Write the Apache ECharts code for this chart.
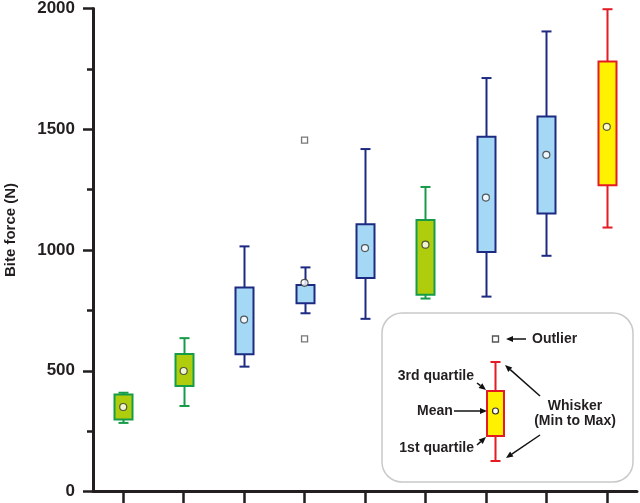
<!DOCTYPE html>
<html><head><meta charset="utf-8">
<script src="https://cdn.jsdelivr.net/npm/echarts@6/dist/echarts.min.js"></script>
<style>html,body{margin:0;padding:0;background:#fff}#c{width:640px;height:503px}</style>
</head><body><div id="c"></div>
<script>
// ---- data ----
const categories = ['1','2','3','4','5','6','7','8','9'];
const groups   = ['green','green','blue','blue','blue','green','blue','blue','red'];
const mins     = [284, 354, 517, 738, 715, 799, 807, 976, 1093];
const q1s      = [298, 437, 568, 779, 884, 815, 992, 1151, 1268];
const q3s      = [402, 569, 845, 855, 1107, 1124, 1469, 1553, 1781];
const maxs     = [409, 635, 1015, 928, 1418, 1261, 1712, 1905, 1997];
const means    = [350, 499, 712, 864, 1008, 1022, 1217, 1394, 1510];
const outlierCats   = [3, 3];
const outlierValues = [1455, 632];
const yTicks = [0, 500, 1000, 1500, 2000];

// ---- styles ----
const STYLES = {
  green: {fill:'#afcd0c', line:'#169b49'},
  blue:  {fill:'#a5d8f5', line:'#1d2a82'},
  red:   {fill:'#fff200', line:'#e31b23'}
};
const BOX_W = 18, CAP_W = 10, INK = '#231f20';
const FONT = '"Liberation Sans", Arial, sans-serif';

function makeBoxSeries(g){
  const st = STYLES[g];
  const data = [];
  categories.forEach((c,i)=>{ if(groups[i]===g) data.push([i, mins[i], q1s[i], q3s[i], maxs[i]]); });
  return {
    type:'custom', name:g, data, z:3,
    encode:{x:0, y:[1,2,3,4]},
    renderItem(params, api){
      const i = api.value(0);
      const pMin = api.coord([i, api.value(1)]);
      const pQ1 = api.coord([i, api.value(2)]);
      const pQ3 = api.coord([i, api.value(3)]);
      const pMax = api.coord([i, api.value(4)]);
      const x = Math.round(pQ1[0]) + 0.5;
      const ls = {stroke:st.line, lineWidth:2};
      return {type:'group', children:[
        {type:'line', shape:{x1:x,y1:pQ3[1],x2:x,y2:pMax[1]}, style:ls},
        {type:'line', shape:{x1:x-CAP_W/2,y1:pMax[1],x2:x+CAP_W/2,y2:pMax[1]}, style:ls},
        {type:'line', shape:{x1:x,y1:pQ1[1],x2:x,y2:pMin[1]}, style:ls},
        {type:'line', shape:{x1:x-CAP_W/2,y1:pMin[1],x2:x+CAP_W/2,y2:pMin[1]}, style:ls},
        {type:'rect', shape:{x:x-BOX_W/2,y:pQ3[1],width:BOX_W,height:pQ1[1]-pQ3[1]},
         style:{fill:st.fill, stroke:st.line, lineWidth:2}}
      ]};
    }
  };
}

function arrow(x1,y1,x2,y2){
  const a = Math.atan2(y2-y1,x2-x1), L=7, W=3;
  const bx = x2 - L*Math.cos(a), by = y2 - L*Math.sin(a);
  const px = -Math.sin(a)*W, py = Math.cos(a)*W;
  return [
    {type:'line', shape:{x1:x1,y1:y1,x2:bx,y2:by}, style:{stroke:'#111', lineWidth:1.5}},
    {type:'polygon', shape:{points:[[x2,y2],[bx+px,by+py],[bx-px,by-py]]}, style:{fill:'#111'}}
  ];
}
function txt(x,y,t,align){
  return {type:'text', x:x, y:y, style:{text:t, font:'bold 14px '+FONT, fill:INK, align:align||'left', verticalAlign:'middle'}};
}

// legend key (illustration)
const LX = 495.5;
const legendEls = [
  {type:'rect', shape:{x:382,y:313,width:251,height:169,r:20}, style:{fill:'#fff', stroke:'#c9c9c9', lineWidth:1.5}},
  {type:'rect', shape:{x:LX-3,y:336,width:6,height:6}, style:{fill:'#fff', stroke:'#555', lineWidth:1.3}},
  ...arrow(526,339,506,339),
  txt(532,339,'Outlier'),
  {type:'line', shape:{x1:LX,y1:362,x2:LX,y2:461}, style:{stroke:STYLES.red.line, lineWidth:2}},
  {type:'line', shape:{x1:LX-5,y1:362,x2:LX+5,y2:362}, style:{stroke:STYLES.red.line, lineWidth:2}},
  {type:'line', shape:{x1:LX-5,y1:461,x2:LX+5,y2:461}, style:{stroke:STYLES.red.line, lineWidth:2}},
  {type:'rect', shape:{x:LX-8.5,y:391,width:17,height:45}, style:{fill:STYLES.red.fill, stroke:STYLES.red.line, lineWidth:2}},
  {type:'circle', shape:{cx:LX,cy:411,r:3}, style:{fill:'#fff', stroke:'#333', lineWidth:1.2}},
  txt(474,376,'3rd quartile','right'),
  ...arrow(477,383,486,390),
  txt(417,411,'Mean'),
  ...arrow(454,411,487,411),
  txt(474,448,'1st quartile','right'),
  ...arrow(477,445,486,437),
  txt(575,406,'Whisker','center'),
  txt(575,421,'(Min to Max)','center'),
  ...arrow(540,396,505,365),
  ...arrow(540,435,506,458),
  {type:'text', x:11, y:230, rotation:Math.PI/2,
   style:{text:'Bite force (N)', font:'bold 15px '+FONT, fill:INK, align:'center', verticalAlign:'middle'}}
];

const chart = echarts.init(document.getElementById('c'), null, {renderer:'canvas'});
chart.setOption({
  animation:false,
  backgroundColor:'#fff',
  grid:{left:93, right:3, top:7, bottom:11.5},
  xAxis:{
    type:'category', data:categories, boundaryGap:true,
    axisLine:{lineStyle:{color:INK, width:3}},
    axisTick:{show:true, interval:0, alignWithLabel:true, length:12, lineStyle:{color:INK, width:2.5}},
    axisLabel:{show:true, interval:0, formatter:()=>''}, splitLine:{show:false}
  },
  yAxis:{
    type:'value', min:yTicks[0], max:yTicks[yTicks.length-1], interval:yTicks[1]-yTicks[0],
    axisLine:{show:true, lineStyle:{color:INK, width:3}},
    axisTick:{show:true, length:10, lineStyle:{color:INK, width:2.5}},
    minorTick:{show:true, splitNumber:2, length:6, lineStyle:{color:INK, width:2.5}},
    axisLabel:{margin:18, color:INK, fontSize:17, fontWeight:'bold', fontFamily:FONT, formatter:v=>String(v)},
    splitLine:{show:false}
  },
  series:[
    makeBoxSeries('green'), makeBoxSeries('blue'), makeBoxSeries('red'),
    {type:'scatter', z:5, data:means.map((v,i)=>[i,v]), symbol:'circle', symbolSize:7,
     itemStyle:{color:'#fff', borderColor:'#333', borderWidth:1.2}},
    {type:'scatter', z:5, data:outlierValues.map((v,k)=>[outlierCats[k],v]), symbol:'rect', symbolSize:6,
     itemStyle:{color:'#fff', borderColor:'#555', borderWidth:1.3}}
  ],
  graphic:legendEls
});
</script></body></html>
